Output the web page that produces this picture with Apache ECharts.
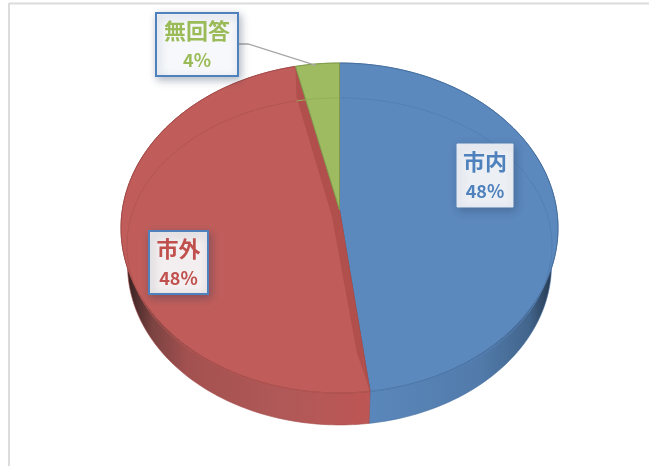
<!DOCTYPE html>
<html>
<head>
<meta charset="utf-8">
<style>
html, body { margin: 0; padding: 0; background: #fff; }
#main { width: 649px; height: 466px; }
</style>
<script src="https://cdn.jsdelivr.net/npm/echarts@6/dist/echarts.min.js"></script>
</head>
<body>
<div id="main"></div>
<script>
// values, labels round them
var categories = ['市内', '市外', '無回答'];
var shares = [48.0, 48.4, 3.6];

var faceColors = ['#5b88bd', '#c05d5a', '#9ebb62'];
var edgeColors = ['#466f9f', '#a34a48', '#7f9a4c'];
var arcColors = ['#5480b3', '#b35553', '#93af5a'];
var textColors = ['#4f81bd', '#c0504d', '#9bbb59'];
var boxes = [
    {x: 457, y: 144, w: 56, h: 63, fill: '#ecf0f5', border: '#dfe6ef', bw: 1},
    {x: 149, y: 231, w: 59, h: 63, fill: '#f3eeef', border: '#4f81bd', bw: 2},
    {x: 156, y: 13, w: 82, h: 63, fill: '#f6f8fb', border: '#4f81bd', bw: 2}
];

var cx = 339.5;
var k = -0.109;   // perspective of the tilted disc
var topDisc = {y: 210, bx: 217.2, by: 163};
var rimDisc = {y: 229.4, bx: 211.2, by: 145.8};
var lowDisc = {y: 247.6, bx: 210.7, by: 158};

function project(disc, angle, r) {
    var rad = angle * Math.PI / 180;
    var u = r * Math.sin(rad);
    var v = -r * Math.cos(rad);
    var w = 1 + k * v;
    return [cx + disc.bx * u / w, disc.y + disc.by * v / w];
}

function arc(disc, from, to) {
    var pts = [];
    var n = Math.max(2, Math.ceil(Math.abs(to - from)));
    for (var i = 0; i <= n; i++) {
        pts.push(project(disc, from + (to - from) * i / n, 1));
    }
    return pts;
}

function sliceAngles(index) {
    var total = 0, before = 0;
    for (var i = 0; i < shares.length; i++) {
        total += shares[i];
        if (i < index) before += shares[i];
    }
    return [before / total * 360, (before + shares[index]) / total * 360];
}

var wallFills = [
    new echarts.graphic.LinearGradient(369, 0, 553, 0, [
        {offset: 0, color: '#5a87bb'},
        {offset: 0.6, color: '#527bab'},
        {offset: 0.87, color: '#42658c'},
        {offset: 1, color: '#25374d'}
    ], true),
    new echarts.graphic.LinearGradient(128, 0, 369, 0, [
        {offset: 0, color: '#372222'},
        {offset: 0.1, color: '#7b4341'},
        {offset: 0.25, color: '#a35150'},
        {offset: 0.65, color: '#b05958'},
        {offset: 1, color: '#bd5654'}
    ], true),
    '#8ea956'
];

function renderWall(params, api) {
    var a = sliceAngles(api.value(0));
    var pts = arc(topDisc, a[0], a[1]).concat(arc(lowDisc, a[1], a[0]));
    return {
        type: 'polygon',
        shape: {points: pts},
        style: {fill: wallFills[api.value(0)], stroke: edgeColors[api.value(0)], lineWidth: 0.6}
    };
}

function renderFace(params, api) {
    var i = api.value(0);
    var a = sliceAngles(i);
    var apex = project(topDisc, 0, 0);
    var children = [{
        type: 'polygon',
        shape: {points: [apex].concat(arc(topDisc, a[0], a[1]))},
        style: {fill: faceColors[i], stroke: edgeColors[i], lineWidth: 1}
    }, {
        type: 'polyline',
        shape: {points: arc(rimDisc, a[0], a[1])},
        style: {fill: null, stroke: arcColors[i], lineWidth: 1}
    }];
    if (i === 1) {
        // cut face of the pulled apart red slice
        children.push({
            type: 'polygon',
            shape: {points: [
                project(topDisc, a[1], 1),
                project(topDisc, a[1] - 3, 0.78),
                project(topDisc, 225, 0.05),
                project(topDisc, a[0] + 2, 0.8),
                project(topDisc, a[0], 1),
                apex
            ]},
            style: {fill: '#b04f4c'}
        });
    }
    return {type: 'group', children: children};
}

function renderLabel(params, api) {
    var i = api.value(0);
    var b = boxes[i];
    var font = '"Noto Sans CJK JP", sans-serif';
    var children = [];
    if (i === 2) {
        children.push({
            type: 'polyline',
            shape: {points: [[b.x + b.w, 44], [248, 44], project(topDisc, 353, 0.99)]},
            style: {fill: null, stroke: '#a6a6a6', lineWidth: 1.3}
        });
    }
    children.push({
        type: 'rect',
        shape: {x: b.x, y: b.y, width: b.w, height: b.h},
        style: {
            fill: b.fill, stroke: b.border, lineWidth: b.bw,
            shadowBlur: 8, shadowOffsetX: 2, shadowOffsetY: 3, shadowColor: 'rgba(40,60,90,0.35)'
        }
    }, {
        type: 'text',
        style: {
            x: b.x + b.w / 2, y: b.y + 18, text: categories[i], align: 'center', verticalAlign: 'middle',
            fill: textColors[i], font: 'bold 22px ' + font
        }
    }, {
        type: 'text',
        style: {
            x: b.x + b.w / 2, y: b.y + 47, text: Math.round(shares[i]) + '%', align: 'center', verticalAlign: 'middle',
            fill: textColors[i], font: 'bold 18px ' + font
        }
    });
    return {type: 'group', children: children};
}

var indices = categories.map(function (c, i) { return [i]; });

var option = {
    animation: false,
    backgroundColor: '#fff',
    graphic: [
        {type: 'line', shape: {x1: 9, y1: 3.5, x2: 649, y2: 3.5}, style: {stroke: '#dcdcdc', lineWidth: 2}},
        {type: 'line', shape: {x1: 9, y1: 3, x2: 9, y2: 466}, style: {stroke: '#dcdcdc', lineWidth: 2}}
    ],
    series: [
        {type: 'custom', coordinateSystem: 'none', silent: true, z: 2, data: indices, renderItem: renderWall},
        {type: 'custom', coordinateSystem: 'none', silent: true, z: 3, data: indices, renderItem: renderFace},
        {type: 'custom', coordinateSystem: 'none', silent: true, z: 4, data: indices, renderItem: renderLabel}
    ]
};

var chart = echarts.init(document.getElementById('main'));
chart.setOption(option);
</script>
</body>
</html>
